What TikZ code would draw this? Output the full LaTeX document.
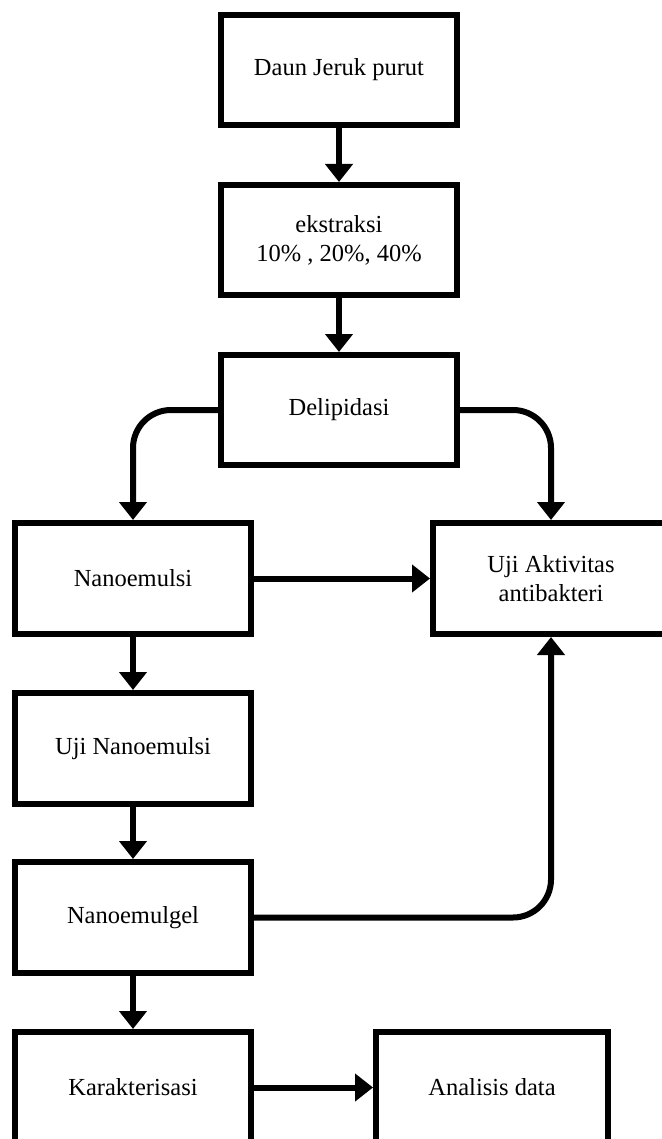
\documentclass[tikz,border=0pt]{standalone}
\usepackage{fontspec}
\setmainfont{Liberation Serif}
\usetikzlibrary{arrows.meta}
\begin{document}
\begin{tikzpicture}[x=1pt,y=-1pt,
  box/.style={draw=black, line width=6pt, rectangle, minimum width=236pt, minimum height=110pt, inner sep=0pt, align=center, font=\fontsize{24.5}{29}\selectfont},
  boxs/.style={box, minimum width=236pt, minimum height=111pt},
  arr/.style={line width=6pt, -{Triangle[width=27pt,length=18pt]}}]
\useasboundingbox (0,0) rectangle (661,1139);
\fill[white] (0,0) rectangle (661,1139);
\node[box] (daun) at (339,70) {Daun Jeruk purut};
\node[box] (eks) at (339,240) {ekstraksi\\10\% , 20\%, 40\%};
\node[box] (del) at (339,410) {Delipidasi};
\node[boxs] (nano) at (133,578.5) {Nanoemulsi};
\node[boxs] (uji) at (551,578.5) {Uji Aktivitas\\antibakteri};
\node[boxs] (ujin) at (133,748.5) {Uji Nanoemulsi};
\node[boxs] (gel) at (133,917.5) {Nanoemulgel};
\node[boxs] (kar) at (133,1087.5) {Karakterisasi};
\node[boxs, minimum width=232pt] (ana) at (492,1087.5) {Analisis data};
\draw[arr] (daun) -- (eks);
\draw[arr] (eks) -- (del);
\draw[arr, rounded corners=38pt] (del.west) -| (nano.north);
\draw[arr, rounded corners=38pt] (del.east) -| (uji.north);
\draw[arr] (nano) -- (uji);
\draw[arr] (nano) -- (ujin);
\draw[arr] (ujin) -- (gel);
\draw[arr, rounded corners=38pt] (gel.east) -| (uji.south);
\draw[arr] (gel) -- (kar);
\draw[arr] (kar) -- (ana);
\end{tikzpicture}
\end{document}
